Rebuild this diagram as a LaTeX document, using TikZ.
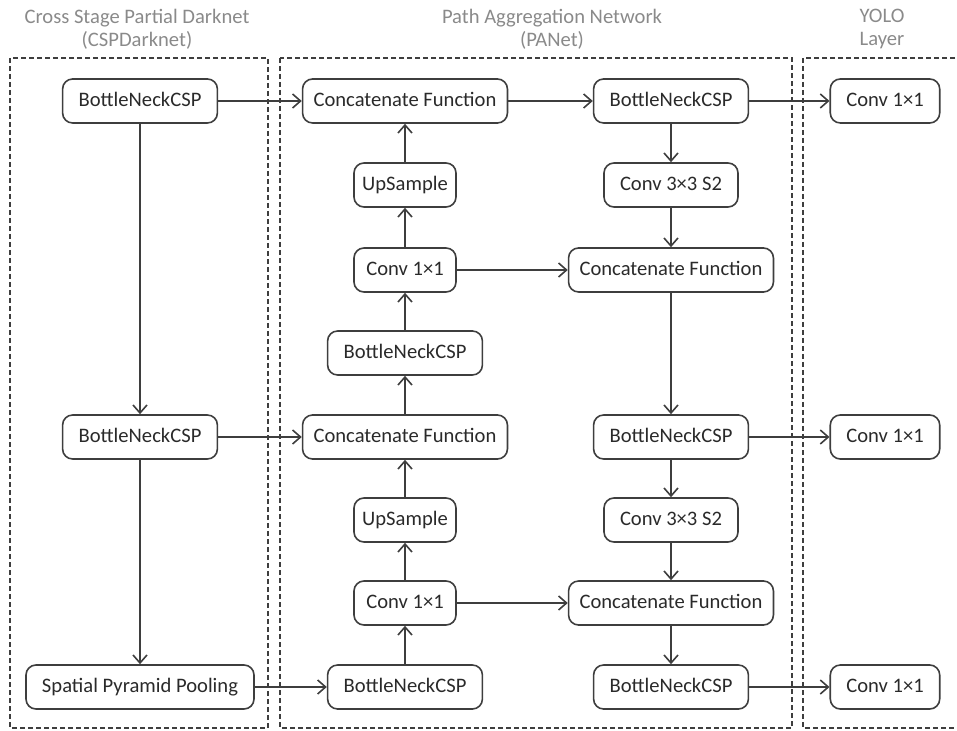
\documentclass[tikz,border=0pt]{standalone}
\usepackage{fontspec}
\setmainfont{Carlito}
\usepackage{xcolor}
\usetikzlibrary{arrows.meta,positioning}
\definecolor{edge}{HTML}{3E3E3E}
\definecolor{title}{HTML}{8A8A8A}
\definecolor{txt}{HTML}{2A2A2A}
\tikzset{
	blk/.style={draw=edge,line width=0.8pt,rounded corners=5pt,minimum height=22pt,inner xsep=8pt,
		text height=7.4pt,text depth=2.2pt,text=txt,font=\fontsize{10.3}{12}\selectfont},
	narrow/.style={inner xsep=3pt,minimum width=51pt},
	cat/.style={inner xsep=5.5pt},
	flow/.style={draw=edge,line width=0.8pt,-{Straight Barb[length=4pt,width=7pt]}},
	group/.style={draw=edge,line width=0.7pt,dash pattern=on 2.5pt off 1.5pt},
	head/.style={text=title,align=center,font=\fontsize{10.3}{11.5}\selectfont}
}
\begin{document}
\begin{tikzpicture}[x=0.5pt,y=-0.5pt]
	\useasboundingbox (0,0) rectangle (957,731);
	% dashed groups and their titles
	\draw[group] (10,58) rectangle (268,728);
	\draw[group] (280,58) rectangle (792,728);
	\draw[group] (803,58) rectangle (985,728);
	\node[head] (tCSP) at (137,29) {Cross Stage Partial Darknet\\(CSPDarknet)};
	\node[head] (tPAN) at (552,29) {Path Aggregation Network\\(PANet)};
	\node[head] (tYOLO) at (882,29) {YOLO\\Layer};
	% backbone
	\node[blk] (bbA) at (140,101) {BottleNeckCSP};
	\node[blk] (bbB) at (140,437) {BottleNeckCSP};
	\node[blk] (spp) at (140,687) {Spatial Pyramid Pooling};
	% PANet, upward path
	\node[blk,cat] (catA) at (405,101) {Concatenate Function};
	\node[blk,narrow] (upA) at (405,185) {UpSample};
	\node[blk,narrow] (convA) at (405,270) {Conv 1×1};
	\node[blk] (bnA) at (405,353) {BottleNeckCSP};
	\node[blk,cat] (catB) at (405,437) {Concatenate Function};
	\node[blk,narrow] (upB) at (405,520) {UpSample};
	\node[blk,narrow] (convB) at (405,603) {Conv 1×1};
	\node[blk] (bnB) at (405,687) {BottleNeckCSP};
	% PANet, downward path
	\node[blk] (bnC) at (671,101) {BottleNeckCSP};
	\node[blk] (dsA) at (671,185) {Conv 3×3 S2};
	\node[blk,cat] (catC) at (671,270) {Concatenate Function};
	\node[blk] (bnD) at (671,437) {BottleNeckCSP};
	\node[blk] (dsB) at (671,520) {Conv 3×3 S2};
	\node[blk,cat] (catD) at (671,603) {Concatenate Function};
	\node[blk] (bnE) at (671,687) {BottleNeckCSP};
	% YOLO heads
	\node[blk] (yA) at (885,101) {Conv 1×1};
	\node[blk] (yB) at (885,437) {Conv 1×1};
	\node[blk] (yC) at (885,687) {Conv 1×1};
	% connectors
	\draw[flow] (bbA) -- (bbB);
	\draw[flow] (bbB) -- (spp);
	\draw[flow] (bbA) -- (catA);
	\draw[flow] (bbB) -- (catB);
	\draw[flow] (spp) -- (bnB);
	\draw[flow] (bnB) -- (convB);
	\draw[flow] (convB) -- (upB);
	\draw[flow] (upB) -- (catB);
	\draw[flow] (catB) -- (bnA);
	\draw[flow] (bnA) -- (convA);
	\draw[flow] (convA) -- (upA);
	\draw[flow] (upA) -- (catA);
	\draw[flow] (catA) -- (bnC);
	\draw[flow] (bnC) -- (dsA);
	\draw[flow] (dsA) -- (catC);
	\draw[flow] (convA) -- (catC);
	\draw[flow] (catC) -- (bnD);
	\draw[flow] (bnD) -- (dsB);
	\draw[flow] (dsB) -- (catD);
	\draw[flow] (convB) -- (catD);
	\draw[flow] (catD) -- (bnE);
	\draw[flow] (bnC) -- (yA);
	\draw[flow] (bnD) -- (yB);
	\draw[flow] (bnE) -- (yC);
\end{tikzpicture}
\end{document}
